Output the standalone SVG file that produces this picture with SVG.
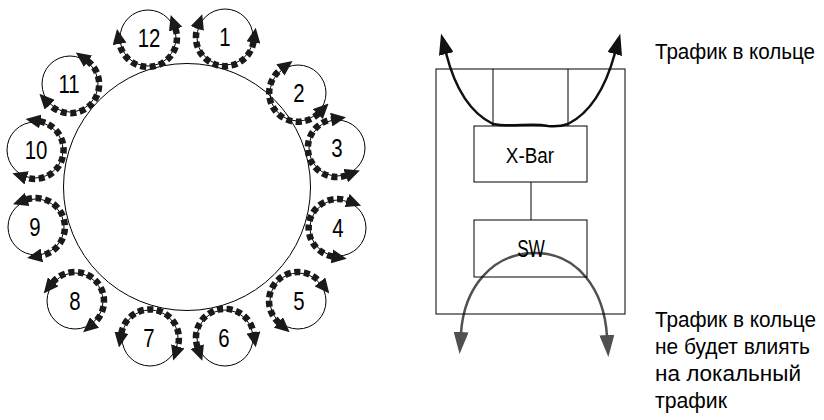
<svg xmlns="http://www.w3.org/2000/svg" width="824" height="420" viewBox="0 0 824 420">
<style>
.ln{fill:none;stroke:#000;stroke-width:1}
.nd{fill:none;stroke:#000;stroke-width:1}
.num{font-family:"Liberation Sans",Arial,sans-serif;font-size:24px;fill:#000;text-anchor:middle}
.lbl{font-family:"Liberation Sans",Arial,sans-serif;font-size:20px;fill:#000}
.box{font-family:"Liberation Sans",Arial,sans-serif;font-size:21px;fill:#000;text-anchor:middle}
.dash{fill:none;stroke:#1a1a1a;stroke-width:6.5;stroke-dasharray:6 3.5;marker-start:url(#ah);marker-end:url(#ah)}
.blk{fill:none;stroke:#111;stroke-width:2.5;marker-start:url(#bh);marker-end:url(#bh)}
.gry{fill:none;stroke:#505050;stroke-width:2.5;marker-start:url(#gh);marker-end:url(#gh)}
</style>
<defs>
<marker id="ah" markerUnits="userSpaceOnUse" markerWidth="15" markerHeight="14" viewBox="0 0 15 14" refX="1" refY="7" orient="auto-start-reverse"><path d="M0,0 L15,7 L0,14 z" fill="#1a1a1a"/></marker>
<marker id="bh" markerUnits="userSpaceOnUse" markerWidth="21" markerHeight="15" viewBox="0 0 21 15" refX="1" refY="7.5" orient="auto-start-reverse"><path d="M0,0 L21,7.5 L0,15 z" fill="#111"/></marker>
<marker id="gh" markerUnits="userSpaceOnUse" markerWidth="22" markerHeight="15" viewBox="0 0 22 15" refX="1" refY="7.5" orient="auto-start-reverse"><path d="M0,0 L22,7.5 L0,15 z" fill="#505050"/></marker>
</defs>
<rect width="824" height="420" fill="#fff"/>
<g id="ring"><circle class="ln" cx="187" cy="187" r="123.5"/></g>
<g id="node-1"><circle class="nd" cx="225" cy="37" r="28"/><text class="num" transform="translate(225,46) scale(0.85,1.05)">1</text></g>
<g id="node-2"><circle class="nd" cx="298" cy="93" r="28"/><text class="num" transform="translate(299,102) scale(0.85,1.05)">2</text></g>
<g id="node-3"><circle class="nd" cx="337" cy="148" r="28"/><text class="num" transform="translate(337,157) scale(0.85,1.05)">3</text></g>
<g id="node-4"><circle class="nd" cx="338" cy="228" r="28"/><text class="num" transform="translate(338,237) scale(0.85,1.05)">4</text></g>
<g id="node-5"><circle class="nd" cx="298" cy="301" r="28"/><text class="num" transform="translate(299,310) scale(0.85,1.05)">5</text></g>
<g id="node-6"><circle class="nd" cx="225" cy="338" r="28"/><text class="num" transform="translate(224,347) scale(0.85,1.05)">6</text></g>
<g id="node-7"><circle class="nd" cx="150" cy="338" r="28"/><text class="num" transform="translate(149,347) scale(0.85,1.05)">7</text></g>
<g id="node-8"><circle class="nd" cx="75" cy="301" r="28"/><text class="num" transform="translate(75,310) scale(0.85,1.05)">8</text></g>
<g id="node-9"><circle class="nd" cx="36" cy="227" r="28"/><text class="num" transform="translate(35,236) scale(0.85,1.05)">9</text></g>
<g id="node-10"><circle class="nd" cx="35" cy="150" r="28"/><text class="num" transform="translate(36,159) scale(0.85,1.05)">10</text></g>
<g id="node-11"><circle class="nd" cx="70" cy="84" r="28"/><text class="num" transform="translate(69,93) scale(0.85,1.05)">11</text></g>
<g id="node-12"><circle class="nd" cx="148" cy="38" r="28"/><text class="num" transform="translate(149,47) scale(0.85,1.05)">12</text></g>
<g id="connectors">
<path class="dash" d="M253.6,41.6 A29,29 0 1 1 197.6,27.5"/>
<path class="dash" d="M318.6,113.4 A29,29 0 1 1 281.2,69.3"/>
<path class="dash" d="M346.7,175.3 A29,29 0 1 1 332.2,119.4"/>
<path class="dash" d="M332.9,256.5 A29,29 0 1 1 348.0,200.8"/>
<path class="dash" d="M279.1,323.0 A29,29 0 1 1 320.5,282.7"/>
<path class="dash" d="M197.6,347.5 A29,29 0 1 1 253.6,333.4"/>
<path class="dash" d="M121.3,333.6 A29,29 0 1 1 177.5,347.3"/>
<path class="dash" d="M52.6,282.6 A29,29 0 1 1 93.8,323.1"/>
<path class="dash" d="M26.2,199.7 A29,29 0 1 1 40.9,255.6"/>
<path class="dash" d="M39.4,121.3 A29,29 0 1 1 25.7,177.5"/>
<path class="dash" d="M87.2,60.7 A29,29 0 1 1 49.0,104.0"/>
<path class="dash" d="M175.3,28.2 A29,29 0 1 1 119.4,42.9"/>
<path class="blk" d="M446,53 Q460,108 493,124 C512,128 530,122 548,126 C556,127 562,126 568,124 Q600,108 615,53"/>
<path class="gry" d="M461,333 C464,288 492,253 535,253 C578,253 604,290 607,336"/>
<line class="ln" x1="531" y1="182" x2="531" y2="220"/>
</g>
<g id="device">
<rect class="ln" x="436" y="69" width="189" height="245"/>
<line class="ln" x1="493" y1="69" x2="493" y2="126"/>
<line class="ln" x1="568" y1="69" x2="568" y2="126"/>
</g>
<g id="xbar"><rect class="ln" x="474" y="126" width="113" height="56"/><text class="box" transform="translate(530,163) scale(0.9,1.05)">X-Bar</text></g>
<g id="sw"><rect class="ln" x="474" y="220" width="113" height="57"/><text class="box" transform="translate(531,257) scale(0.82,1.1)">SW</text></g>
<g id="labels">
<text class="lbl" transform="translate(655,59) scale(1,1.12)" textLength="160" lengthAdjust="spacingAndGlyphs">Трафик в кольце</text>
<text class="lbl" transform="translate(655,327) scale(1,1.12)" textLength="161" lengthAdjust="spacingAndGlyphs">Трафик в кольце</text>
<text class="lbl" transform="translate(655,354) scale(1,1.12)" textLength="155" lengthAdjust="spacingAndGlyphs">не будет влиять</text>
<text class="lbl" transform="translate(655,381) scale(1,1.12)" textLength="146" lengthAdjust="spacingAndGlyphs">на локальный</text>
<text class="lbl" transform="translate(655,408) scale(1,1.12)" textLength="72" lengthAdjust="spacingAndGlyphs">трафик</text>
</g>
</svg>
